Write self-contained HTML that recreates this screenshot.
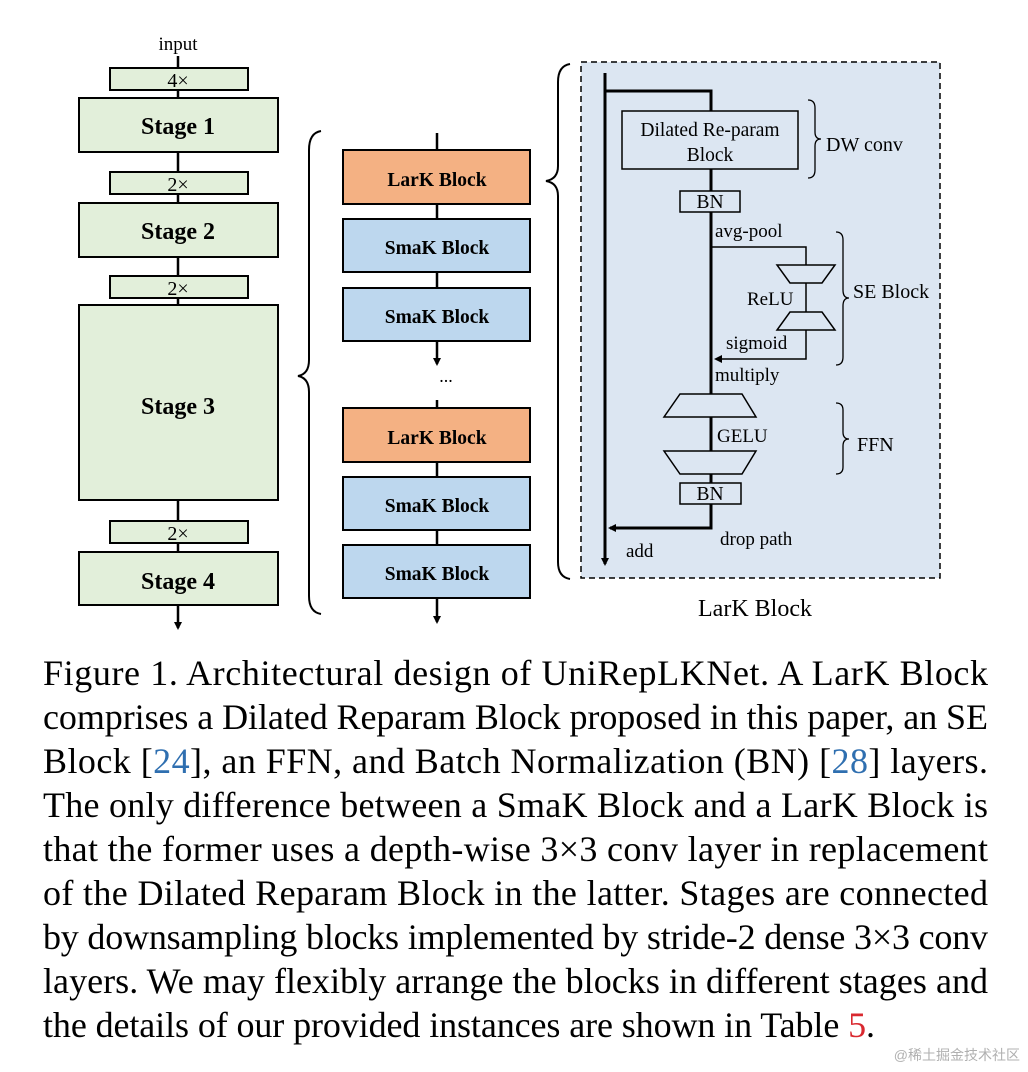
<!DOCTYPE html>
<html><head><meta charset="utf-8"><style>html,body{margin:0;padding:0;background:#fff}svg{display:block}</style></head>
<body>
<svg width="1028" height="1072" viewBox="0 0 1028 1072" xmlns="http://www.w3.org/2000/svg" font-family="Liberation Serif, serif">
<defs><marker id="ah" markerWidth="8" markerHeight="8" refX="6" refY="4" orient="auto" markerUnits="userSpaceOnUse"><path d="M0,0 L8,4 L0,8 z" fill="#000"/></marker></defs>
<text x="178" y="50" font-size="19" text-anchor="middle">input</text>
<line x1="178" y1="56" x2="178" y2="628" stroke="#000" stroke-width="2.5" marker-end="url(#ah)"/>
<g fill="#e2efda" stroke="#000" stroke-width="2">
<rect x="110" y="68" width="138" height="22"/>
<rect x="79" y="98" width="199" height="54"/>
<rect x="110" y="172" width="138" height="22"/>
<rect x="79" y="203" width="199" height="54"/>
<rect x="110" y="276" width="138" height="22"/>
<rect x="79" y="305" width="199" height="195"/>
<rect x="110" y="521" width="138" height="22"/>
<rect x="79" y="552" width="199" height="53"/>
</g>
<g font-size="20" text-anchor="middle"><text x="178" y="87">4×</text><text x="178" y="191">2×</text><text x="178" y="295">2×</text><text x="178" y="540">2×</text></g>
<g font-size="24" font-weight="bold" text-anchor="middle"><text x="178" y="134">Stage 1</text><text x="178" y="239">Stage 2</text><text x="178" y="414">Stage 3</text><text x="178" y="589">Stage 4</text></g>
<path d="M321,131 Q309,133 309,150 L309,360 Q309,374 298,376 Q309,378 309,392 L309,596 Q309,612 321,614" fill="none" stroke="#000" stroke-width="2"/>
<line x1="437" y1="133" x2="437" y2="364" stroke="#000" stroke-width="2.5" marker-end="url(#ah)"/>
<line x1="437" y1="400" x2="437" y2="622" stroke="#000" stroke-width="2.5" marker-end="url(#ah)"/>
<text x="446" y="382" font-size="18" text-anchor="middle">...</text>
<g stroke="#000" stroke-width="2">
<rect x="343" y="150" width="187" height="54" fill="#f4b183"/>
<rect x="343" y="219" width="187" height="53" fill="#bdd7ee"/>
<rect x="343" y="288" width="187" height="53" fill="#bdd7ee"/>
<rect x="343" y="408" width="187" height="54" fill="#f4b183"/>
<rect x="343" y="477" width="187" height="53" fill="#bdd7ee"/>
<rect x="343" y="545" width="187" height="53" fill="#bdd7ee"/>
</g>
<g font-size="19.5" font-weight="bold" text-anchor="middle"><text x="437" y="186">LarK Block</text><text x="437" y="254">SmaK Block</text><text x="437" y="323">SmaK Block</text><text x="437" y="444">LarK Block</text><text x="437" y="512">SmaK Block</text><text x="437" y="580">SmaK Block</text></g>
<path d="M570,64 Q558,66 558,82 L558,166 Q558,179 546,181 Q558,183 558,196 L558,562 Q558,577 570,579" fill="none" stroke="#000" stroke-width="2"/>
<rect x="581" y="62" width="359" height="516" fill="#dce6f2" stroke="#000" stroke-width="1.5" stroke-dasharray="6,4"/>
<line x1="605" y1="73" x2="605" y2="564" stroke="#000" stroke-width="3" marker-end="url(#ah)"/>
<polyline points="605,91 711,91 711,111" fill="none" stroke="#000" stroke-width="3"/>
<line x1="711" y1="169" x2="711" y2="394" stroke="#000" stroke-width="3"/>
<line x1="711" y1="417" x2="711" y2="451" stroke="#000" stroke-width="3"/>
<polyline points="711,474 711,528 610,528" fill="none" stroke="#000" stroke-width="3" marker-end="url(#ah)"/>
<rect x="622" y="111" width="176" height="58" fill="#dce6f2" stroke="#000" stroke-width="1.5"/>
<text x="710" y="136" font-size="19.5" text-anchor="middle">Dilated Re-param</text>
<text x="710" y="161" font-size="19.5" text-anchor="middle">Block</text>
<rect x="680" y="191" width="60" height="21" fill="#dce6f2" stroke="#000" stroke-width="1.5"/>
<text x="710" y="208" font-size="19.5" text-anchor="middle">BN</text>
<text x="715" y="237" font-size="19">avg-pool</text>
<polyline points="711,247 806,247 806,265" fill="none" stroke="#000" stroke-width="1.5"/>
<polygon points="777,265 835,265 822,283 790,283" fill="#dce6f2" stroke="#000" stroke-width="1.5"/>
<line x1="806" y1="283" x2="806" y2="312" stroke="#000" stroke-width="1.5"/>
<text x="747" y="305" font-size="19">ReLU</text>
<polygon points="790,312 822,312 835,330 777,330" fill="#dce6f2" stroke="#000" stroke-width="1.5"/>
<polyline points="806,330 806,359 716,359" fill="none" stroke="#000" stroke-width="1.5" marker-end="url(#ah)"/>
<text x="726" y="349" font-size="19">sigmoid</text>
<text x="715" y="381" font-size="19">multiply</text>
<polygon points="680,394 742,394 756,417 664,417" fill="#dce6f2" stroke="#000" stroke-width="1.5"/>
<text x="717" y="442" font-size="19">GELU</text>
<polygon points="664,451 756,451 742,474 680,474" fill="#dce6f2" stroke="#000" stroke-width="1.5"/>
<rect x="680" y="483" width="61" height="21" fill="#dce6f2" stroke="#000" stroke-width="1.5"/>
<text x="710" y="500" font-size="19.5" text-anchor="middle">BN</text>
<text x="720" y="545" font-size="19">drop path</text>
<text x="626" y="557" font-size="19">add</text>
<g fill="none" stroke="#000" stroke-width="1.3">
<path d="M808,100 Q815,100 815,108 L815,132 Q815,139 821,139 Q815,139 815,146 L815,170 Q815,178 808,178"/>
<path d="M836,232 Q843,232 843,240 L843,290 Q843,298 849,298 Q843,298 843,306 L843,357 Q843,365 836,365"/>
<path d="M836,403 Q843,403 843,410 L843,432 Q843,439 849,439 Q843,439 843,446 L843,467 Q843,474 836,474"/>
</g>
<text x="826" y="151" font-size="20">DW conv</text>
<text x="853" y="298" font-size="20">SE Block</text>
<text x="857" y="451" font-size="20">FFN</text>
<text x="755" y="616" font-size="24" text-anchor="middle">LarK Block</text>
<g font-size="36">
<text x="43" y="685" textLength="945" lengthAdjust="spacing">Figure 1.  Architectural design of UniRepLKNet.  A LarK Block</text>
<text x="43" y="729" textLength="945" lengthAdjust="spacing">comprises a Dilated Reparam Block proposed in this paper, an SE</text>
<text x="43" y="773" textLength="945" lengthAdjust="spacing">Block [<tspan fill="#2f6fb0">24</tspan>], an FFN, and Batch Normalization (BN) [<tspan fill="#2f6fb0">28</tspan>] layers.</text>
<text x="43" y="817" textLength="945" lengthAdjust="spacing">The only difference between a SmaK Block and a LarK Block is</text>
<text x="43" y="861" textLength="945" lengthAdjust="spacing">that the former uses a depth-wise 3×3 conv layer in replacement</text>
<text x="43" y="905" textLength="945" lengthAdjust="spacing">of the Dilated Reparam Block in the latter.  Stages are connected</text>
<text x="43" y="949" textLength="945" lengthAdjust="spacing">by downsampling blocks implemented by stride-2 dense 3×3 conv</text>
<text x="43" y="993" textLength="945" lengthAdjust="spacing">layers.  We may flexibly arrange the blocks in different stages and</text>
<text x="43" y="1037" textLength="832" lengthAdjust="spacing">the details of our provided instances are shown in Table <tspan fill="#d9282f">5</tspan>.</text>
</g>
<text x="1020" y="1060" font-size="14" fill="#b0b0b0" text-anchor="end" font-family="Liberation Sans, Noto Sans CJK SC, sans-serif">@稀土掘金技术社区</text>
</svg>
</body></html>
